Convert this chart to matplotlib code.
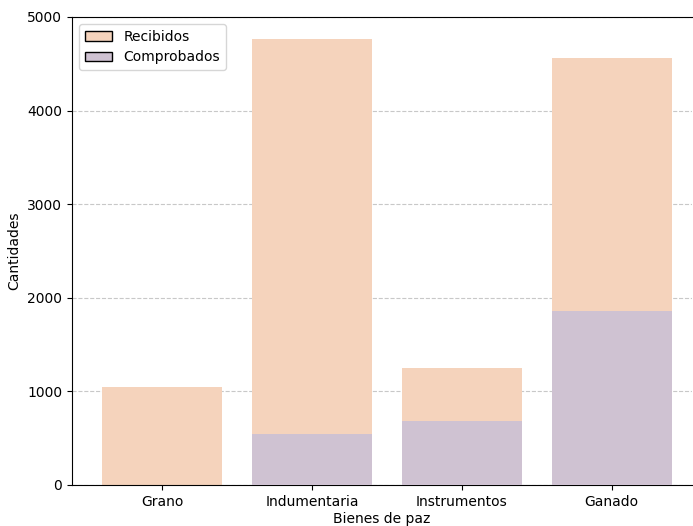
import matplotlib.pyplot as plt
from matplotlib.patches import Patch

categorias = ["Grano", "Indumentaria", "Instrumentos", "Ganado"]
recibidos = [1045, 4765, 1250, 4560]
comprobados = [0, 550, 680, 1855]

color_recibidos = "#f5d3bc"
color_comprobados = "#cfc2d2"

fig = plt.figure(figsize=(6.93, 5.26), dpi=100)
ax = fig.add_axes([72 / 693, 1 - 485 / 526, 620 / 693, 468 / 526])

x = range(len(categorias))
ax.bar(x, recibidos, width=0.8, color=color_recibidos, zorder=2)
ax.bar(x, comprobados, width=0.8, color=color_comprobados, zorder=3)

ax.set_xticks(list(x))
ax.set_xticklabels(categorias)
ax.set_xlim(-0.6, 3.535)
ax.set_ylim(0, 5000)
ax.set_yticks([0, 1000, 2000, 3000, 4000, 5000])
ax.yaxis.grid(True, linestyle="--", color="#c8c8c8", linewidth=0.8, zorder=0)
ax.set_axisbelow(True)
ax.spines["right"].set_visible(False)

ax.set_xlabel("Bienes de paz", labelpad=2)
ax.set_ylabel("Cantidades")

handles = [
    Patch(facecolor=color_recibidos, edgecolor="black", label="Recibidos"),
    Patch(facecolor=color_comprobados, edgecolor="black", label="Comprobados"),
]
ax.legend(handles=handles, loc="upper left")

fig.savefig("out.png", dpi=100)
